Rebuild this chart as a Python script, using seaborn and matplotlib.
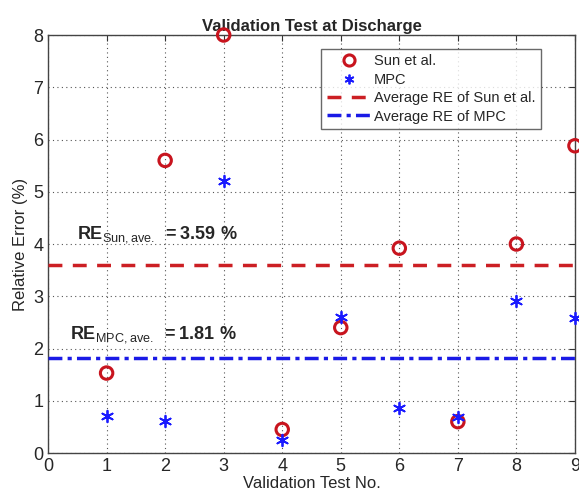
import matplotlib
matplotlib.use("Agg")
import matplotlib.pyplot as plt
import seaborn as sns
import pandas as pd
from matplotlib.lines import Line2D

tests = [1, 2, 3, 4, 5, 6, 7, 8, 9]
sun_values = [1.53, 5.6, 8.0, 0.45, 2.4, 3.92, 0.6, 4.0, 5.88]
mpc_values = [0.7, 0.62, 5.2, 0.25, 2.6, 0.86, 0.68, 2.9, 2.58]
sun_avg = 3.59
mpc_avg = 1.81
x_ticks = [0, 1, 2, 3, 4, 5, 6, 7, 8, 9]
y_ticks = [0, 1, 2, 3, 4, 5, 6, 7, 8]

sns.set_style("white")
plt.rcParams['font.family'] = ['Liberation Sans', 'DejaVu Sans']
plt.rcParams['mathtext.fontset'] = 'custom'
plt.rcParams['mathtext.rm'] = 'Liberation Sans'
plt.rcParams['mathtext.bf'] = 'Liberation Sans:bold'

fig = plt.figure(figsize=(5.79, 5.0), dpi=100)
ax = fig.add_axes([0.083, 0.094, 0.910, 0.836])

df_sun = pd.DataFrame({"test": tests, "err": sun_values})
df_mpc = pd.DataFrame({"test": tests, "err": mpc_values})

sns.scatterplot(data=df_sun, x="test", y="err", ax=ax, marker="o", s=80,
                facecolors="none", edgecolor="#c8141e", linewidth=2.2, zorder=5, clip_on=False)
sns.scatterplot(data=df_mpc, x="test", y="err", ax=ax, marker=(6, 2, 0), s=70,
                color="#1a1aff", edgecolor="#1a1aff", linewidth=1.3, zorder=5, clip_on=False)

ax.axhline(sun_avg, color="#cc1f24", linestyle=(0, (4, 3)), linewidth=2.5, zorder=4)
ax.axhline(mpc_avg, color="#1a1ae6", linestyle=(0, (4, 1.5, 1.2, 1.5)), linewidth=2.5, zorder=4)

ax.set_xlim(0, 9)
ax.set_ylim(0, 8)
ax.set_xticks(x_ticks)
ax.set_yticks(y_ticks)
ax.tick_params(direction="in", top=True, right=True, labelsize=13, length=4, color="#333333")
ax.grid(True, linestyle=(0, (1, 3)), color="#555555", linewidth=0.8)
for sp in ax.spines.values():
    sp.set_color("#444444")
    sp.set_linewidth(1.0)

ax.set_title("Validation Test at Discharge", fontsize=12, fontweight="bold", pad=3)
ax.set_xlabel("Validation Test No.", fontsize=12, labelpad=1)
ax.set_ylabel("Relative Error (%)", fontsize=12, labelpad=4)

ax.text(0.5, 4.1, r"$\mathbf{RE}_{\mathrm{Sun,ave.}}$ $\mathbf{= 3.59\ \%}$", fontsize=13, zorder=6)
ax.text(0.37, 2.2, r"$\mathbf{RE}_{\mathrm{MPC,ave.}}$ $\mathbf{= 1.81\ \%}$", fontsize=13, zorder=6)

handles = [
    Line2D([], [], marker="o", linestyle="none", markerfacecolor="none",
           markeredgecolor="#c8141e", markeredgewidth=2.2, markersize=8),
    Line2D([], [], marker=(6, 2, 0), linestyle="none", color="#1a1aff",
           markeredgewidth=1.3, markersize=7),
    Line2D([], [], color="#cc1f24", linestyle=(0, (4, 3)), linewidth=2.5),
    Line2D([], [], color="#1a1ae6", linestyle=(0, (4, 1.5, 1.2, 1.5)), linewidth=2.5),
]
labels = ["Sun et al.", "MPC", "Average RE of Sun et al.", "Average RE of MPC"]
leg = ax.legend(handles, labels, loc="upper right", bbox_to_anchor=(0.95, 0.985),
                fontsize=10.5, frameon=True, fancybox=False, edgecolor="#444444",
                handlelength=3.0, handletextpad=0.2, borderpad=0.4, labelspacing=0.3)
leg.get_frame().set_linewidth(1.0)

fig.savefig("out.png", dpi=100)
